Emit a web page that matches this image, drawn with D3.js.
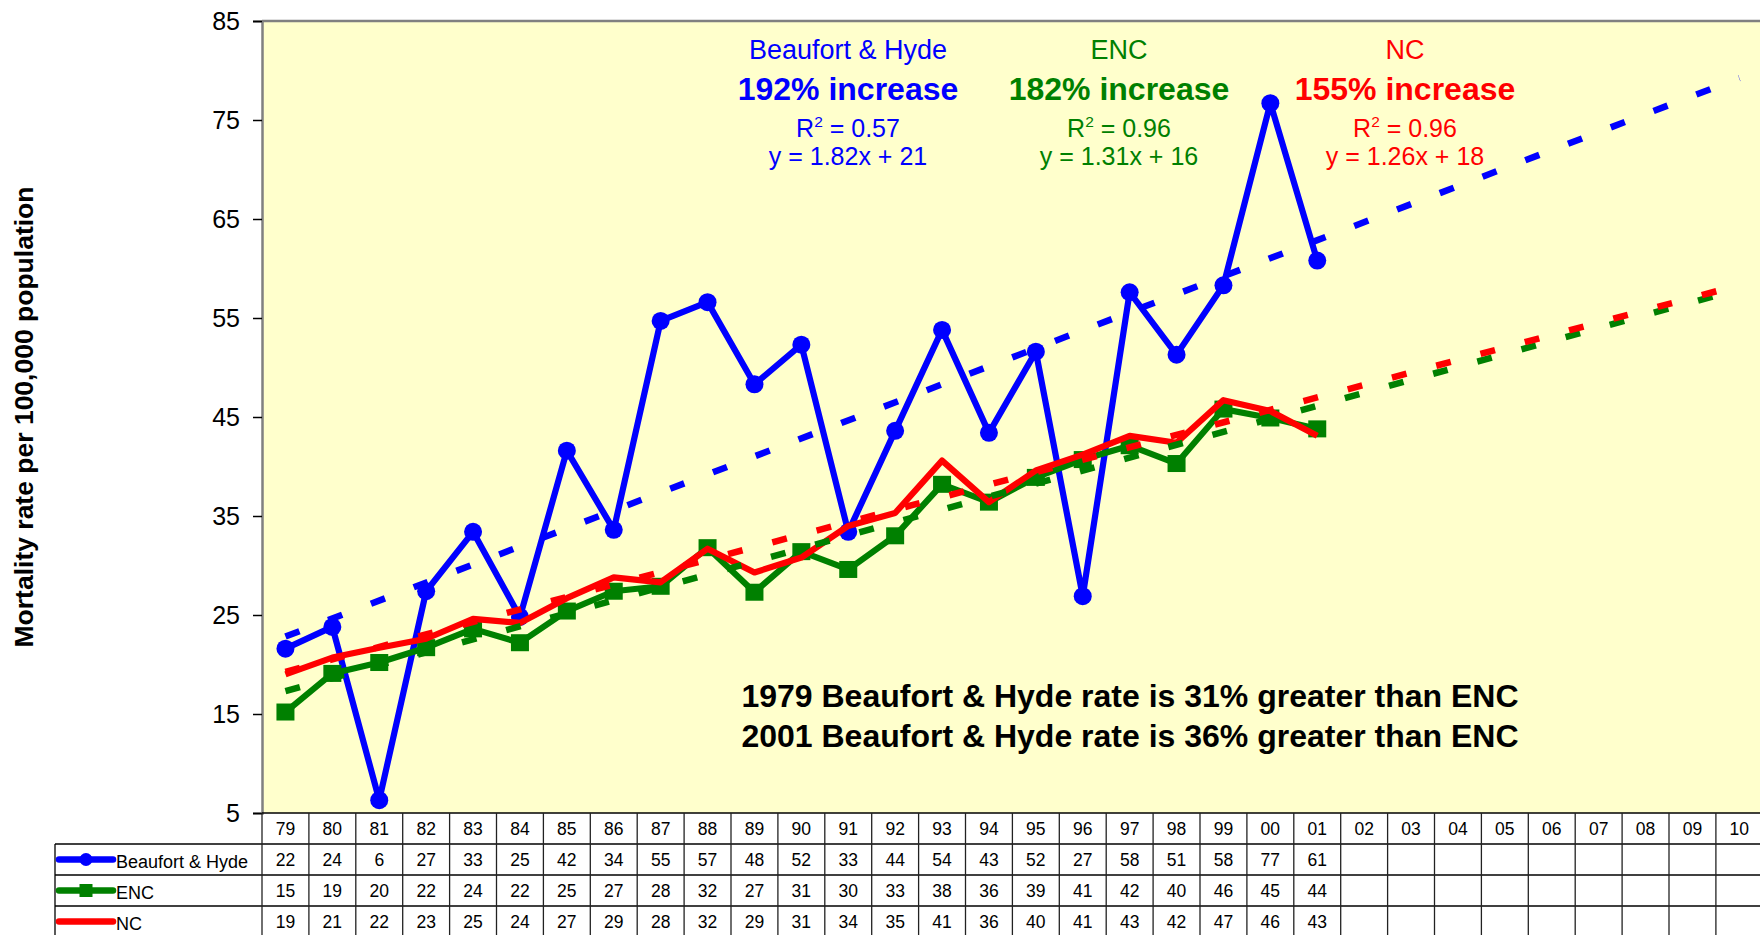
<!DOCTYPE html>
<html>
<head>
<meta charset="utf-8">
<script src="https://cdn.jsdelivr.net/npm/d3@7"></script>
<style>
  html, body { margin: 0; padding: 0; background: #fff; overflow: hidden; }
  svg { display: block; font-family: "Liberation Sans", Arial, sans-serif; }
</style>
</head>
<body>
<svg id="chart" width="1760" height="935"></svg>
<script>
// ---------------- DATA ----------------
const categories = ["79","80","81","82","83","84","85","86","87","88","89","90","91","92","93","94","95","96","97","98","99","00","01","02","03","04","05","06","07","08","09","10"];
const seriesNames = ["Beaufort & Hyde", "ENC", "NC"];
const beaufortHyde = [21.6, 23.8, 6.3, 27.4, 33.4, 24.8, 41.6, 33.6, 54.7, 56.6, 48.3, 52.3, 33.4, 43.6, 53.8, 43.4, 51.6, 26.9, 57.6, 51.3, 58.3, 76.7, 60.8];
const enc = [15.2, 19.1, 20.2, 21.7, 23.6, 22.2, 25.4, 27.4, 27.9, 31.8, 27.3, 31.4, 29.6, 33.0, 38.2, 36.4, 38.9, 40.7, 42.1, 40.3, 45.8, 44.9, 43.8];
const nc = [19.0, 20.7, 21.7, 22.6, 24.6, 24.2, 26.7, 28.8, 28.3, 31.7, 29.3, 30.8, 34.0, 35.3, 40.6, 36.4, 39.6, 41.2, 43.1, 42.4, 46.7, 45.6, 43.1];
const yTicks = [5, 15, 25, 35, 45, 55, 65, 75, 85];
const trendSlopes = [1.82, 1.31, 1.26];
const trendIntercepts = [21, 16, 18];
const rSquared = ["0.57", "0.96", "0.96"];
const increases = ["192% increase", "182% increase", "155% increase"];
const notes = ["1979 Beaufort & Hyde rate is 31% greater than ENC", "2001 Beaufort & Hyde rate is 36% greater than ENC"];
const yTitle = "Mortality rate per 100,000 population";

// ---------------- SETUP ----------------
const colors = ["#0000FF", "#008000", "#FF0000"];
const seriesData = [beaufortHyde, enc, nc];
const svg = d3.select("#chart");
const pLeft = 262, pTop = 21, pBottom = 813, colW = 46.9;
const pRight = pLeft + categories.length * colW;

const x = d3.scaleBand().domain(categories).range([pLeft, pRight]).padding(0);
const y = d3.scaleLinear().domain([5, 85]).range([pBottom, pTop]);
const cx = c => x(c) + x.bandwidth() / 2;

// plot background
svg.append("rect").attr("x", pLeft).attr("y", pTop).attr("width", pRight - pLeft).attr("height", pBottom - pTop).attr("fill", "#FFFFCC");
svg.append("line").attr("x1", pLeft).attr("x2", pRight).attr("y1", pTop).attr("y2", pTop).attr("stroke", "#808080").attr("stroke-width", 2.5);

// y axis
const yAxis = svg.append("g").attr("transform", `translate(${pLeft},0)`)
  .call(d3.axisLeft(y).tickValues(yTicks).tickSize(9).tickPadding(13).tickFormat(d3.format("d")));
yAxis.select(".domain").attr("stroke", "#808080").attr("stroke-width", 2.5);
yAxis.selectAll(".tick line").attr("stroke", "#000").attr("stroke-width", 1.5);
yAxis.selectAll(".tick text").attr("font-size", 25).attr("fill", "#000").attr("font-family", "Liberation Sans, Arial, sans-serif");

// y title
svg.append("text").attr("transform", "translate(33,417) rotate(-90)")
  .attr("text-anchor", "middle").attr("font-weight", "bold").attr("font-size", 26.5).attr("fill", "#000").text(yTitle);

// ---------------- SERIES ----------------
const line = d3.line().x((d, i) => cx(categories[i])).y(d => y(d));
seriesData.forEach((vals, s) => {
  const g = svg.append("g");
  g.append("path").datum(vals).attr("d", line).attr("fill", "none")
    .attr("stroke", colors[s]).attr("stroke-width", 6.2).attr("stroke-linejoin", "round");
  if (s === 0) {
    g.selectAll("circle").data(vals).join("circle")
      .attr("cx", (d, i) => cx(categories[i])).attr("cy", d => y(d)).attr("r", 9).attr("fill", colors[s]);
  } else if (s === 1) {
    g.selectAll("rect").data(vals).join("rect")
      .attr("x", (d, i) => cx(categories[i]) - 9).attr("y", d => y(d) - 8.5)
      .attr("width", 18).attr("height", 17).attr("fill", colors[s]);
  }
});

// trend lines (linear, x = 1..32)
seriesData.forEach((vals, s) => {
  const n = categories.length;
  const pts = [[1, trendSlopes[s] * 1 + trendIntercepts[s]], [n, trendSlopes[s] * n + trendIntercepts[s]]];
  svg.append("path").datum(pts)
    .attr("d", d3.line().x(d => cx(categories[d[0] - 1])).y(d => y(d[1])))
    .attr("fill", "none").attr("stroke", colors[s]).attr("stroke-width", 6.5)
    .attr("stroke-dasharray", "15,30.8");
});

// ---------------- ANNOTATIONS ----------------
const annoX = [848, 1119, 1405];
seriesNames.forEach((name, s) => {
  const g = svg.append("g").attr("fill", colors[s]).attr("text-anchor", "middle");
  g.append("text").attr("x", annoX[s]).attr("y", 59).attr("font-size", 27).text(name);
  g.append("text").attr("x", annoX[s]).attr("y", 100).attr("font-size", 32).attr("font-weight", "bold").text(increases[s]);
  const r = g.append("text").attr("x", annoX[s]).attr("y", 137).attr("font-size", 25);
  r.append("tspan").text("R");
  r.append("tspan").attr("dy", -10).attr("font-size", 15.5).text("2");
  r.append("tspan").attr("dy", 10).text(" = " + rSquared[s]);
  g.append("text").attr("x", annoX[s]).attr("y", 165).attr("font-size", 25)
    .text(`y = ${trendSlopes[s]}x + ${trendIntercepts[s]}`);
});

svg.selectAll(".note").data(notes).join("text").attr("class", "note")
  .attr("x", 1130).attr("y", (d, i) => 707 + i * 40).attr("text-anchor", "middle")
  .attr("font-size", 32).attr("font-weight", "bold").attr("fill", "#000").text(d => d);

// ---------------- DATA TABLE ----------------
const rowH = 31, legendLeft = 55;
const rowTops = [pBottom, pBottom + rowH, pBottom + 2 * rowH, pBottom + 3 * rowH, pBottom + 4 * rowH];
const tg = svg.append("g");
tg.append("line").attr("x1", pLeft).attr("x2", pRight).attr("y1", pBottom).attr("y2", pBottom).attr("stroke", "#000").attr("stroke-width", 1.5);
[1, 2, 3].forEach(k => tg.append("line").attr("x1", legendLeft).attr("x2", pRight)
  .attr("y1", rowTops[k]).attr("y2", rowTops[k]).attr("stroke", "#000").attr("stroke-width", 1.3));
categories.forEach(c => tg.append("line").attr("x1", x(c)).attr("x2", x(c)).attr("y1", pBottom).attr("y2", 935)
  .attr("stroke", "#222").attr("stroke-width", 1.3));
tg.append("line").attr("x1", pRight).attr("x2", pRight).attr("y1", pBottom).attr("y2", 935).attr("stroke", "#222").attr("stroke-width", 1.3);
tg.append("line").attr("x1", legendLeft).attr("x2", legendLeft).attr("y1", rowTops[1]).attr("y2", 935).attr("stroke", "#000").attr("stroke-width", 1.3);

tg.selectAll(".hdr").data(categories).join("text").attr("class", "hdr")
  .attr("x", d => cx(d)).attr("y", 835).attr("text-anchor", "middle").attr("font-size", 17.5).attr("fill", "#000").text(d => d);

seriesData.forEach((vals, s) => {
  const base = 866 + s * 31;
  tg.selectAll(".row" + s).data(vals).join("text").attr("class", "row" + s)
    .attr("x", (d, i) => cx(categories[i])).attr("y", base).attr("text-anchor", "middle")
    .attr("font-size", 17.5).attr("fill", "#000").text(d => Math.round(d));
  const ly = rowTops[s + 1] + rowH / 2;
  tg.append("line").attr("x1", 59).attr("x2", 113).attr("y1", ly).attr("y2", ly)
    .attr("stroke", colors[s]).attr("stroke-width", 6.5).attr("stroke-linecap", "round");
  if (s === 0) tg.append("circle").attr("cx", 86).attr("cy", ly).attr("r", 6.5).attr("fill", colors[s]);
  if (s === 1) tg.append("rect").attr("x", 79.5).attr("y", ly - 6.5).attr("width", 13).attr("height", 13).attr("fill", colors[s]);
  tg.append("text").attr("x", 116).attr("y", base + 1.5).attr("font-size", 18).attr("fill", "#000").text(seriesNames[s]);
});
</script>
</body>
</html>
